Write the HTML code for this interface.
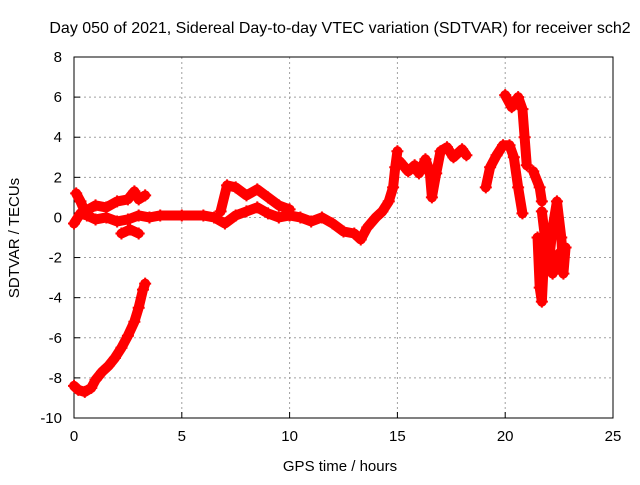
<!DOCTYPE html>
<html><head><meta charset="utf-8"><style>
body{margin:0;background:#fff;}
svg text{font-family:"Liberation Sans",sans-serif;font-size:15px;fill:#000;}
</style></head><body>
<svg id="chart" width="640" height="480" xmlns="http://www.w3.org/2000/svg">
<text x="340" y="33" text-anchor="middle" style="font-size:16px">Day 050 of 2021, Sidereal Day-to-day VTEC variation (SDTVAR) for receiver sch2</text>
<g id="grid"></g>
<g id="axes"></g>
<g id="marks"></g>
<text x="340" y="471" text-anchor="middle">GPS time / hours</text>
<text transform="translate(19,238) rotate(-90)" text-anchor="middle">SDTVAR / TECUs</text>
</svg>
<script>
const xTicks=[0,5,10,15,20,25];
const yTicks=[-10,-8,-6,-4,-2,0,2,4,6,8];
const seriesA=[[0,-8.4],[0.2,-8.6],[0.5,-8.7],[0.8,-8.5],[1.0,-8.1],[1.3,-7.7],[1.6,-7.4],[1.9,-7.0],[2.2,-6.5],[2.5,-5.9],[2.8,-5.2],[3.0,-4.5],[3.2,-3.6],[3.3,-3.3]];
const seriesB=[[0,-0.3],[0.3,0.2],[0.6,0.1],[1.0,-0.1],[1.5,0.0],[2.0,-0.2],[2.5,-0.1],[3.0,0.1],[3.5,0.0],[4.0,0.1],[5.0,0.1],[6.0,0.1],[6.5,0.0],[7.0,-0.3],[7.5,0.1],[8.0,0.3],[8.5,0.5],[9.0,0.2],[9.5,0.0],[10,0.1],[10.5,0.0],[11.0,-0.2],[11.5,0.0],[12.0,-0.3],[12.5,-0.7],[13,-0.8],[13.3,-1.1],[13.6,-0.5],[14.0,0.0],[14.3,0.3],[14.6,0.8],[14.8,1.5],[14.9,2.5],[15.0,3.3]];
const seriesC=[[0.1,1.2],[0.3,0.8],[0.5,0.3],[1.0,0.6],[1.5,0.5],[2.0,0.8],[2.5,0.9],[2.8,1.3],[3.0,0.9],[3.3,1.1]];
const seriesD=[[2.2,-0.8],[2.6,-0.6],[3.0,-0.8]];
const seriesE=[[6.8,0.3],[7.1,1.6],[7.5,1.5],[8.0,1.1],[8.5,1.4],[9.0,1.0],[9.5,0.6],[10.0,0.4]];
const seriesF=[[15.1,2.8],[15.5,2.3],[15.8,2.6],[16.0,2.2],[16.3,2.9],[16.5,2.3],[16.6,1.0],[16.8,2.2],[17.0,3.3],[17.3,3.5],[17.6,3.0],[18.0,3.4],[18.2,3.1]];
const seriesG=[[19.1,1.5],[19.3,2.5],[19.6,3.1],[19.9,3.6],[20.2,3.6],[20.4,3.0],[20.6,1.5],[20.8,0.2]];
const seriesH=[[20.0,6.1],[20.3,5.5],[20.6,6.0],[20.8,5.4],[20.9,4.0],[21.0,2.6]];
const seriesI=[[21.3,2.3],[21.6,1.5],[21.7,0.8]];
const seriesJ=[[21.5,-1.0],[21.6,-3.5],[21.7,-4.2],[21.8,-2.0],[22.0,-2.5],[22.2,-0.5],[22.4,0.8],[22.6,-1.0],[22.7,-2.8],[22.8,-1.5],[22.5,-1.8],[22.2,-2.8],[21.9,-1.5],[21.7,0.3]];
const allSeries=[seriesA,seriesB,seriesC,seriesD,seriesE,seriesF,seriesG,seriesH,seriesI,seriesJ];

const X0=74,X1=613,Y0=418,Y1=57,xmin=0,xmax=25,ymin=-10,ymax=8;
const sx=v=>X0+(v-xmin)/(xmax-xmin)*(X1-X0);
const sy=v=>Y0-(v-ymin)/(ymax-ymin)*(Y0-Y1);
const NS="http://www.w3.org/2000/svg";
function mk(t,a,p){const e=document.createElementNS(NS,t);for(const k in a)e.setAttribute(k,a[k]);p.appendChild(e);return e;}
const grid=document.getElementById('grid'),axes=document.getElementById('axes'),marks=document.getElementById('marks');
xTicks.forEach(t=>{
  const x=sx(t);
  if(t>xmin&&t<xmax){const g=mk('line',{x1:x,x2:x,y1:Y1,y2:Y0,stroke:'#a0a0a0','stroke-dasharray':'2,3'},grid);
  
  }
  const tk=mk('line',{x1:x,x2:x,y1:Y0,y2:Y0-6,stroke:'#000'},axes);
  
  
  const tx=mk('text',{x:x,y:Y0+23,'text-anchor':'middle'},axes);tx.textContent=t;
  
  
});
yTicks.forEach(t=>{
  const y=sy(t);
  if(t>ymin&&t<ymax){const g=mk('line',{x1:X0,x2:X1,y1:y,y2:y,stroke:'#a0a0a0','stroke-dasharray':'2,3'},grid);
  
  }
  const tk=mk('line',{x1:X0,x2:X0+6,y1:y,y2:y,stroke:'#000'},axes);
  
  
  const tx=mk('text',{x:X0-12,y:y+5,'text-anchor':'end'},axes);tx.textContent=t;
  
  
});
const frame=mk('rect',{x:X0,y:Y1,width:X1-X0,height:Y0-Y1,fill:'none',stroke:'#000'},axes);


allSeries.forEach(s=>{
  const pl=mk('polyline',{points:s.map(p=>sx(p[0])+','+sy(p[1])).join(' '),fill:'none',stroke:'#ff0000','stroke-width':10,'stroke-linejoin':'round','stroke-linecap':'round'},marks);
  
  
  s.forEach(p=>{
    const x=sx(p[0]),y=sy(p[1]);
    const m=mk('path',{d:`M${x-6},${y}H${x+6}M${x},${y-6}V${y+6}`,stroke:'#ff0000','stroke-width':2},marks);
    
    
  });
});
</script>
</body></html>
